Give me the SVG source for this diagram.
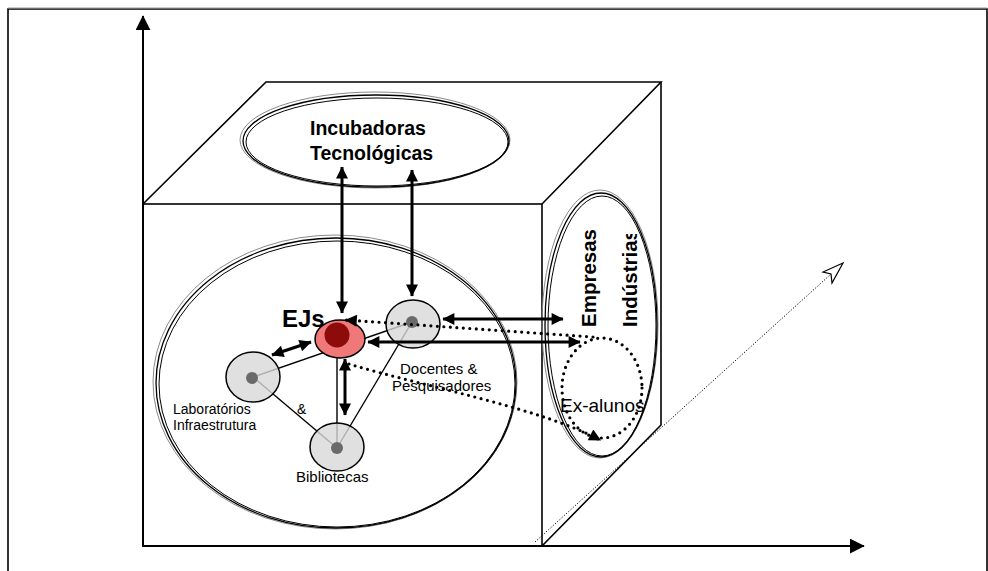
<svg xmlns="http://www.w3.org/2000/svg" width="988" height="571" viewBox="0 0 988 571">
<style>
.frame{fill:none;stroke:#000;stroke-width:1.6}
.cube{fill:none;stroke:#000;stroke-width:1.6}
.e1{fill:none;stroke:#8a8a8a;stroke-width:1}
.e2{fill:none;stroke:#000;stroke-width:1.3}
.e3{fill:none;stroke:#000;stroke-width:1}
.thin{stroke:#000;stroke-width:1.4;fill:none}
.thick{stroke:#000;stroke-width:3;fill:none}
.axis{stroke:#000;stroke-width:2;fill:none}
.dots{stroke:#000;stroke-width:3.2;stroke-linecap:round;stroke-dasharray:0 6.5;fill:none}
.node{fill:#d8d8d8;fill-opacity:0.8;stroke:#000;stroke-width:1.5}
.core{fill:#6a6a6a}
.lbl{font-family:"Liberation Sans",Arial,sans-serif;font-size:15px;fill:#000}
.sm{font-size:14px}
.bold{font-family:"Liberation Sans",Arial,sans-serif;font-weight:bold;fill:#000}
</style>
<defs>
<marker id="ah" viewBox="0 0 10 10" refX="9.5" refY="5" markerWidth="13" markerHeight="12" markerUnits="userSpaceOnUse" orient="auto-start-reverse"><path d="M0,0 L10,5 L0,10 z" fill="#000"/></marker>
<marker id="axh" viewBox="0 0 10 10" refX="9.5" refY="5" markerWidth="15" markerHeight="15" markerUnits="userSpaceOnUse" orient="auto"><path d="M0,0 L10,5 L0,10 z" fill="#000"/></marker>
<marker id="dh" viewBox="0 0 10 10" refX="9" refY="5" markerWidth="14" markerHeight="12" markerUnits="userSpaceOnUse" orient="auto"><path d="M0,0 L10,5 L0,10 z" fill="#000"/></marker>
<clipPath id="clipInd"><rect x="600" y="234" width="60" height="110"/></clipPath>
</defs>

<g id="frame">
<path class="frame" d="M8,571 V9 H987 V571"/>
<line x1="8" y1="8" x2="987" y2="8" stroke="#999" stroke-width="1"/>
</g>

<g id="axes">
<line class="axis" x1="143" y1="547" x2="143" y2="16" marker-end="url(#axh)"/>
<line class="axis" x1="143" y1="546" x2="864" y2="546" marker-end="url(#axh)"/>
<line x1="535" y1="542" x2="841" y2="265" stroke="#000" stroke-width="1" stroke-dasharray="1.2 1.8"/>
<polygon points="843,263 823,272 831,274 832,283" fill="#fff" stroke="#000" stroke-width="1.2"/>
</g>

<g id="cube">
<rect class="cube" x="143" y="204" width="399" height="342"/>
<polyline class="cube" points="143,204 266,82 661,82 542,204"/>
<polyline class="cube" points="661,82 661,425 542,546"/>
</g>

<g id="universidade">
<ellipse class="e1" cx="335" cy="382" rx="182" ry="147"/>
<ellipse class="e2" cx="336" cy="383" rx="180" ry="145"/>
<ellipse class="e3" cx="337" cy="384" rx="178" ry="143"/>
</g>

<g id="incubadoras">
<ellipse class="e1" cx="375" cy="140" rx="135" ry="48"/>
<ellipse class="e2" cx="376" cy="141" rx="133" ry="46"/>
<ellipse class="e3" cx="377" cy="142" rx="131" ry="44"/>
<text class="bold" x="310" y="135" font-size="19.5">Incubadoras</text>
<text class="bold" x="310" y="160" font-size="19.5">Tecnológicas</text>
</g>

<g id="empresas">
<ellipse class="e1" cx="600" cy="324" rx="58" ry="134"/>
<ellipse class="e2" cx="601" cy="325" rx="56" ry="132"/>
<ellipse class="e3" cx="602" cy="326" rx="54" ry="130"/>
<text class="bold" font-size="20.5" transform="translate(596,327) rotate(-90)">Empresas</text>
<g clip-path="url(#clipInd)">
<text class="bold" font-size="20.5" transform="translate(637,327) rotate(-90)">Indústrias</text>
</g>
</g>

<g id="links">
<line class="thin" x1="253" y1="377" x2="412" y2="322"/>
<line class="thin" x1="253" y1="377" x2="337" y2="448"/>
<line class="thin" x1="412" y1="322" x2="337" y2="448"/>
<line class="thin" x1="337" y1="340" x2="337" y2="448"/>
</g>

<g id="laboratorios">
<ellipse class="node" cx="253" cy="377" rx="27" ry="25"/>
<circle class="core" cx="252" cy="378" r="6"/>
<text class="lbl sm" x="173" y="414">Laboratórios</text>
<text class="lbl sm" x="173" y="430">Infraestrutura</text>
<text class="lbl sm" x="297" y="414">&amp;</text>
</g>

<g id="docentes">
<ellipse class="node" cx="413" cy="324" rx="27" ry="24"/>
<circle class="core" cx="412" cy="322" r="6"/>
<text class="lbl" x="400" y="374">Docentes &amp;</text>
<text class="lbl" x="392" y="391">Pesquisadores</text>
</g>

<g id="bibliotecas">
<ellipse class="node" cx="337" cy="447" rx="27" ry="24"/>
<circle class="core" cx="337" cy="448" r="6"/>
<text class="lbl" x="296" y="482">Bibliotecas</text>
</g>

<g id="ejs">
<ellipse cx="340" cy="339" rx="25" ry="19" fill="#f07878" stroke="#000" stroke-width="1.5"/>
<circle cx="337" cy="335" r="12.5" fill="#8e0b0b"/>
<text class="bold" x="282" y="327" font-size="24">EJs</text>
</g>

<g id="exalunos">
<ellipse class="dots" cx="602" cy="388" rx="40" ry="50"/>
<text class="lbl" x="560" y="412" style="font-size:19px">Ex-alunos</text>
</g>

<g id="connectors">
<line class="thick" x1="342" y1="167" x2="342" y2="313" marker-start="url(#ah)" marker-end="url(#ah)"/>
<line class="thick" x1="412" y1="170" x2="412" y2="296" marker-start="url(#ah)" marker-end="url(#ah)"/>
<line class="thick" x1="272" y1="355" x2="311" y2="342" marker-start="url(#ah)" marker-end="url(#ah)"/>
<line class="thick" x1="345" y1="359" x2="345" y2="415" marker-start="url(#ah)" marker-end="url(#ah)"/>
<line class="thick" x1="443" y1="319" x2="563" y2="319" marker-start="url(#ah)" marker-end="url(#ah)"/>
<line class="thick" x1="368" y1="342" x2="580" y2="342" marker-start="url(#ah)" marker-end="url(#ah)"/>
<path class="dots" d="M593,337 L346,320" marker-end="url(#dh)"/>
<path class="dots" d="M349,364 C430,388 540,408 600,440" marker-end="url(#dh)"/>
</g>
</svg>
